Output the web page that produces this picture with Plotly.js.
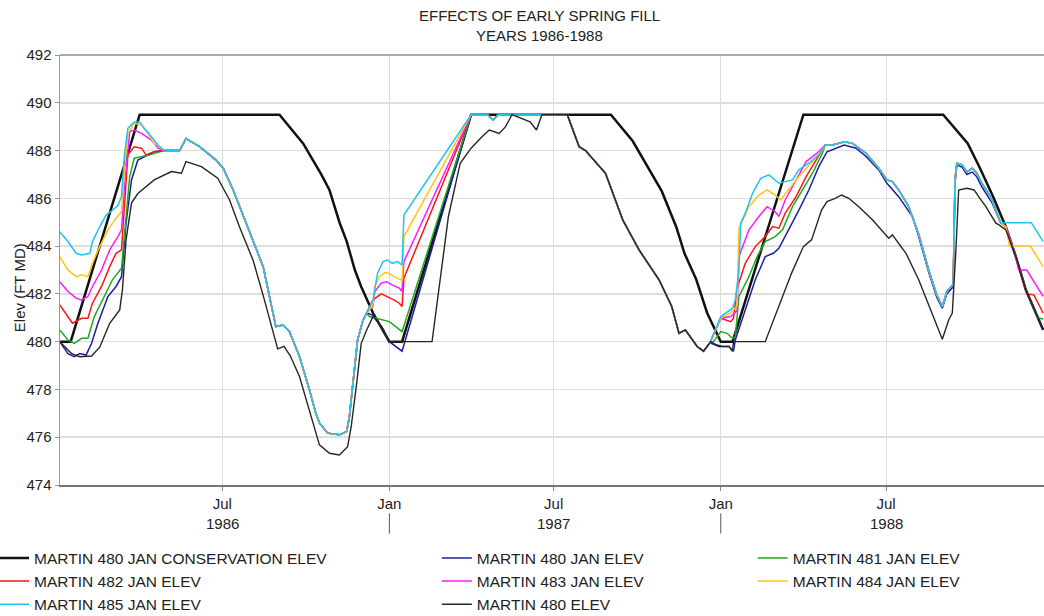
<!DOCTYPE html>
<html>
<head>
<meta charset="utf-8">
<script src="https://cdn.plot.ly/plotly-3.0.1.min.js"></script>
<style>html,body{margin:0;padding:0;background:#fff;}#chart{width:1044px;height:616px;}</style>
</head>
<body>
<div id="chart"></div>
<script>
// ---------- DATA ----------
const seriesNames = ['MARTIN 480 JAN CONSERVATION ELEV','MARTIN 480 JAN ELEV','MARTIN 481 JAN ELEV','MARTIN 482 JAN ELEV','MARTIN 483 JAN ELEV','MARTIN 484 JAN ELEV','MARTIN 485 JAN ELEV','MARTIN 480 ELEV'];
const titleLines = ['EFFECTS OF EARLY SPRING FILL','YEARS 1986-1988'];
const yAxisTitle = 'Elev (FT MD)';
const tickDates = ['1986-07-01','1987-01-01','1987-07-01','1988-01-01','1988-07-01'];
const tickLabels = ['Jul','Jan','Jul','Jan','Jul'];
const yearDates = ['1986-07-01','1987-07-01','1988-07-01'];
const yearLabels = ['1986','1987','1988'];
const yearBreaks = ['1987-01-01','1988-01-01'];

// Conservation (guide) curve
const consDates = ['1986-01-03','1986-01-15','1986-04-01','1986-09-02','1986-09-28','1986-10-18','1986-10-27','1986-11-07','1986-11-15','1986-11-24','1986-12-01','1986-12-14','1987-01-01','1987-01-15','1987-04-01','1987-09-02','1987-09-26','1987-10-16','1987-10-28','1987-11-13','1987-11-22','1987-12-05','1987-12-17','1988-01-01','1988-01-14','1988-04-01','1988-09-02','1988-09-29','1988-10-12','1988-10-27','1988-11-10','1988-11-21','1988-12-02','1988-12-13','1988-12-21'];
const consVals = [480,480,489.5,489.5,488.3,487.0,486.35,485.0,484.2,483.0,482.3,481.2,480,480,489.5,489.5,488.4,487.1,486.3,484.8,483.7,482.6,481.2,480,480,489.5,489.5,488.3,487.3,486.07,484.8,483.56,482.17,481.2,480.5];

// Historical elevation
const histDates = ['1986-01-03','1986-01-16','1986-01-25','1986-02-07','1986-02-16','1986-02-27','1986-03-10','1986-03-13','1986-03-17','1986-03-23','1986-03-30','1986-04-17','1986-05-06','1986-05-17','1986-05-22','1986-06-08','1986-06-26','1986-07-09','1986-07-20','1986-08-04','1986-08-16','1986-08-25','1986-08-31','1986-09-07','1986-09-14','1986-09-24','1986-10-05','1986-10-12','1986-10-16','1986-10-27','1986-11-07','1986-11-16','1986-11-20','1986-11-26','1986-12-01','1986-12-07','1986-12-14','1986-12-24','1987-01-01','1987-02-17','1987-03-07','1987-03-20','1987-04-01','1987-04-13','1987-04-21','1987-05-02','1987-05-09','1987-05-16','1987-06-05','1987-06-12','1987-06-18','1987-07-16','1987-07-29','1987-08-05','1987-08-27','1987-09-15','1987-10-03','1987-10-25','1987-11-08','1987-11-16','1987-11-23','1987-12-06','1987-12-13','1987-12-21','1987-12-27','1988-01-03','1988-01-10','1988-01-14','1988-01-15','1988-02-19','1988-03-05','1988-03-19','1988-04-01','1988-04-10','1988-04-21','1988-04-27','1988-05-06','1988-05-13','1988-05-21','1988-06-01','1988-06-16','1988-06-29','1988-07-04','1988-07-08','1988-07-23','1988-08-06','1988-08-21','1988-09-01','1988-09-08','1988-09-12','1988-09-16','1988-09-19','1988-09-28','1988-10-06','1988-10-11','1988-10-19','1988-10-30','1988-11-02','1988-11-10','1988-11-21','1988-12-02','1988-12-13','1988-12-21'];
const histVals = [480.0,479.5,479.37,479.4,479.77,480.77,481.33,482.17,484.26,485.8,486.2,486.77,487.12,487.05,487.54,487.33,486.84,485.93,484.8,483.4,481.8,480.6,479.7,479.8,479.4,478.54,477.15,476.17,475.68,475.33,475.26,475.6,476.45,478.26,479.93,480.49,481.05,480.6,480.0,480.0,485.23,487.47,488.1,488.58,488.86,488.72,489.0,489.5,489.2,488.86,489.5,489.5,488.16,488.0,487.05,485.1,483.84,482.59,481.47,480.35,480.49,479.8,479.6,480.0,479.87,479.8,479.8,479.6,480.0,480.0,481.47,482.87,483.98,484.26,485.51,485.86,486.0,486.14,486.0,485.65,485.1,484.54,484.33,484.47,483.7,482.59,481.19,480.1,480.91,481.2,483.84,486.35,486.42,486.35,486.07,485.65,484.96,484.9,484.68,483.56,482.17,481.2,480.5];

// Segments shared by the JAN-target runs (where their lines coincide)
const shared86Dates = ['1986-04-28','1986-05-15','1986-05-22','1986-06-06','1986-06-24','1986-07-02','1986-07-13','1986-07-27','1986-08-15','1986-08-29','1986-09-06','1986-09-13','1986-09-24','1986-10-05','1986-10-12','1986-10-16','1986-10-25','1986-11-07','1986-11-15','1986-11-18','1986-11-22','1986-11-27','1986-12-03','1986-12-07'];
const shared86Vals = [488.0,488.0,488.5,488.16,487.6,487.26,486.35,484.96,483.14,480.63,480.7,480.42,479.38,477.98,477.0,476.6,476.17,476.1,476.24,476.87,478.26,480.07,480.9,481.2];
const shared87Dates = ['1987-04-01','1987-04-19','1987-04-25','1987-05-01','1987-07-16','1987-07-29','1987-08-05','1987-08-27','1987-09-15','1987-10-03','1987-10-25','1987-11-08','1987-11-16','1987-11-23','1987-12-06','1987-12-13','1987-12-20'];
const shared87Vals = [489.5,489.5,489.28,489.5,489.5,488.16,488.0,487.05,485.1,483.84,482.59,481.47,480.35,480.49,479.8,479.6,479.95];
const shared88Dates = ['1988-04-25','1988-05-03','1988-05-16','1988-05-25','1988-06-09','1988-06-23','1988-07-02','1988-07-08','1988-07-15','1988-07-26','1988-08-06','1988-08-17','1988-08-26','1988-09-01','1988-09-06','1988-09-13','1988-09-15','1988-09-17','1988-09-23','1988-09-28','1988-10-04','1988-10-09','1988-10-15','1988-10-22','1988-10-26','1988-11-04'];
const shared88Vals = [488.23,488.23,488.37,488.3,487.89,487.26,486.77,486.7,486.35,485.65,484.5,483.0,481.95,481.47,482.1,482.4,486.8,487.47,487.4,487.1,487.26,487.05,486.6,486.2,485.9,485.0];

// MARTIN 485 JAN ELEV
const e485Dates1 = ['1986-01-03','1986-01-12','1986-01-21','1986-01-27','1986-02-05','1986-02-08','1986-02-16','1986-02-23','1986-03-02','1986-03-08','1986-03-12','1986-03-15','1986-03-19','1986-03-26','1986-04-01','1986-04-06','1986-04-14','1986-04-21'];
const e485Vals1 = [484.6,484.19,483.7,483.63,483.7,484.19,484.82,485.3,485.5,485.7,486.07,487.74,488.93,489.2,489.2,488.93,488.58,488.23];
const e485Dates2 = ['1986-12-14','1986-12-19','1986-12-25','1986-12-30','1987-01-04','1987-01-10','1987-01-15','1987-01-17'];
const e485Vals2 = [481.75,482.87,483.35,483.42,483.28,483.35,483.21,485.3];
const e485Dates3 = ['1988-01-01','1988-01-08','1988-01-14','1988-01-17','1988-01-21','1988-01-23','1988-01-28','1988-02-05','1988-02-14','1988-02-23','1988-03-05','1988-03-12','1988-03-20','1988-03-27','1988-04-07','1988-04-18'];
const e485Vals3 = [481.05,481.26,481.4,481.75,483.0,484.96,485.38,486.21,486.84,486.98,486.63,486.7,486.77,487.19,487.47,487.82];
const e485Dates4 = ['1988-11-06','1988-12-08','1988-12-21'];
const e485Vals4 = [484.98,484.98,484.2];

// MARTIN 484 JAN ELEV
const e484Dates1 = ['1986-01-03','1986-01-12','1986-01-21','1986-01-27','1986-02-03','1986-02-08','1986-02-16','1986-02-25','1986-03-06','1986-03-12','1986-03-15','1986-03-19','1986-03-26','1986-04-03','1986-04-10','1986-04-17'];
const e484Vals1 = [483.56,483.0,482.72,482.8,482.72,483.28,483.98,484.68,485.17,485.44,487.05,488.72,489.14,489.07,488.72,488.3];
const e484Dates2 = ['1986-12-14','1986-12-16','1986-12-21','1986-12-27','1987-01-01','1987-01-06','1987-01-14','1987-01-15','1987-01-17'];
const e484Vals2 = [481.55,482.31,482.72,482.89,482.86,482.72,482.59,482.51,484.4];
const e484Dates3 = ['1988-01-01','1988-01-12','1988-01-19','1988-01-21','1988-02-01','1988-02-12','1988-02-21','1988-03-01','1988-03-07','1988-03-14','1988-03-27','1988-04-11','1988-04-22'];
const e484Vals3 = [481.0,481.2,481.5,484.75,485.65,486.14,486.35,486.14,485.93,486.28,486.91,487.54,488.02];
const e484Dates4 = ['1988-11-10','1988-11-14','1988-12-07','1988-12-21'];
const e484Vals4 = [484.8,484.0,484.0,483.14];

// MARTIN 483 JAN ELEV
const e483Dates1 = ['1986-01-03','1986-01-12','1986-01-21','1986-01-27','1986-02-03','1986-02-08','1986-02-18','1986-02-27','1986-03-08','1986-03-12','1986-03-15','1986-03-21','1986-03-26','1986-04-03','1986-04-14','1986-04-21'];
const e483Vals1 = [482.51,482.1,481.82,481.75,481.89,482.31,483.0,483.84,484.4,484.68,486.35,488.8,488.86,488.72,488.44,488.1];
const e483Dates2 = ['1986-12-14','1986-12-16','1986-12-23','1986-12-29','1987-01-04','1987-01-12','1987-01-15','1987-01-17'];
const e483Vals2 = [481.5,482.1,482.45,482.51,482.38,482.24,482.1,483.35];
const e483Dates3 = ['1988-01-01','1988-01-12','1988-01-19','1988-01-21','1988-02-01','1988-02-12','1988-02-21','1988-03-01','1988-03-05','1988-03-12','1988-03-24','1988-04-04','1988-04-16'];
const e483Vals3 = [480.98,481.05,481.3,483.56,484.68,485.24,485.65,485.44,485.24,485.93,486.77,487.54,487.89];
const e483Dates4 = ['1988-11-10','1988-11-21','1988-11-24','1988-12-03','1988-12-21'];
const e483Vals4 = [484.8,483.56,483.0,483.0,481.9];

// MARTIN 482 JAN ELEV
const e482Dates1 = ['1986-01-03','1986-01-12','1986-01-17','1986-01-27','1986-02-03','1986-02-08','1986-02-18','1986-02-27','1986-03-06','1986-03-12','1986-03-15','1986-03-19','1986-03-26','1986-04-03','1986-04-08','1986-04-17'];
const e482Vals1 = [481.54,481.05,480.77,480.98,480.98,481.61,482.31,483.14,483.7,483.84,485.65,487.82,488.16,488.1,487.82,487.95];
const e482Dates2 = ['1986-12-14','1986-12-23','1986-12-30','1987-01-06','1987-01-12','1987-01-15','1987-01-17'];
const e482Vals2 = [481.75,482.0,481.89,481.75,481.61,481.47,482.66];
const e482Dates3 = ['1988-01-01','1988-01-08','1988-01-12','1988-01-15','1988-01-19','1988-01-28','1988-02-08','1988-02-19','1988-02-27','1988-03-05','1988-03-12','1988-03-24','1988-04-04','1988-04-15'];
const e482Vals3 = [480.98,480.91,480.84,480.98,482.24,483.28,483.98,484.4,484.82,484.75,485.38,486.07,486.91,487.6];
const e482Dates4 = ['1988-11-10','1988-11-21','1988-12-02','1988-12-03','1988-12-11','1988-12-21'];
const e482Vals4 = [484.8,483.56,482.17,482.0,481.95,481.2];

// MARTIN 481 JAN ELEV
const e481Dates1 = ['1986-01-03','1986-01-12','1986-01-19','1986-01-27','1986-02-03','1986-02-10','1986-02-21','1986-03-02','1986-03-12','1986-03-15','1986-03-21','1986-03-26','1986-04-03','1986-04-12'];
const e481Vals1 = [480.49,480.07,479.93,480.14,480.14,481.05,481.89,482.59,483.07,484.4,486.91,487.68,487.74,487.82];
const e481Dates2 = ['1986-12-10','1986-12-18','1986-12-25','1987-01-01','1987-01-08','1987-01-15'];
const e481Vals2 = [481.05,480.98,480.91,480.84,480.63,480.42];
const e481Dates3 = ['1987-12-24','1988-01-01','1988-01-08','1988-01-14','1988-01-17','1988-01-21','1988-02-01','1988-02-10','1988-02-19','1988-03-01','1988-03-09','1988-03-20','1988-03-31','1988-04-11','1988-04-22'];
const e481Vals3 = [480.0,480.42,480.35,480.14,480.2,481.89,482.72,483.56,484.19,484.4,484.68,485.65,486.35,487.05,487.89];
const e481Dates4 = ['1988-11-10','1988-11-21','1988-12-02','1988-12-13','1988-12-15','1988-12-21'];
const e481Vals4 = [484.8,483.56,482.17,481.2,481.0,480.95];

// MARTIN 480 JAN ELEV
const e480Dates1 = ['1986-01-03','1986-01-12','1986-01-19','1986-01-25','1986-02-01','1986-02-07','1986-02-14','1986-02-25','1986-03-06','1986-03-12','1986-03-17','1986-03-23','1986-03-30','1986-04-06','1986-04-17'];
const e480Vals1 = [480.0,479.5,479.37,479.5,479.44,479.93,480.77,481.89,482.31,482.72,484.96,486.77,487.6,487.74,487.95];
const e480Dates2 = ['1986-12-14','1986-12-24','1987-01-01','1987-01-15'];
const e480Vals2 = [481.1,480.6,480.0,479.6];
const e480Dates3 = ['1987-12-30','1988-01-10','1988-01-15','1988-01-17','1988-01-28','1988-02-08','1988-02-19','1988-02-28','1988-03-05','1988-03-16','1988-03-27','1988-04-07','1988-04-18','1988-04-27','1988-05-07','1988-05-16','1988-05-29','1988-06-09','1988-06-23','1988-07-02','1988-07-15','1988-07-30','1988-08-06','1988-08-17','1988-08-26','1988-09-01','1988-09-06','1988-09-13','1988-09-15','1988-09-17','1988-09-23','1988-09-28','1988-10-04','1988-10-09','1988-10-15','1988-10-22','1988-10-26','1988-11-04','1988-11-10','1988-11-21','1988-12-02','1988-12-13','1988-12-21'];
const e480Vals3 = [479.8,479.8,479.6,480.07,481.33,482.59,483.56,483.7,483.91,484.68,485.51,486.35,487.33,487.95,488.1,488.23,488.1,487.75,487.19,486.63,486.07,485.24,484.4,482.9,481.85,481.4,482.0,482.3,486.6,487.4,487.3,487.0,487.1,486.9,486.45,486.05,485.8,485.0,484.8,483.56,482.17,481.2,480.5];

// ---------- BUILD ----------
function join(...parts){ return [].concat(...parts); }
const FONT = 'Liberation Sans, Arial, sans-serif';
const TXT = '#222222';

function trace(name, x, y, color, width, legend){
  return {type:'scatter', mode:'lines', name, x, y, legend,
          line:{color, width, shape:'linear'}, hoverinfo:'skip'};
}

const traces = [
  trace(seriesNames[0], consDates, consVals, '#111111', 2.5, 'legend'),
  trace(seriesNames[1], join(e480Dates1, shared86Dates, e480Dates2, shared87Dates, e480Dates3),
        join(e480Vals1, shared86Vals, e480Vals2, shared87Vals, e480Vals3), '#1c1ca6', 1.5, 'legend2'),
  trace(seriesNames[2], join(e481Dates1, shared86Dates, e481Dates2, shared87Dates, e481Dates3, shared88Dates, e481Dates4),
        join(e481Vals1, shared86Vals, e481Vals2, shared87Vals, e481Vals3, shared88Vals, e481Vals4), '#1faa1f', 1.5, 'legend3'),
  trace(seriesNames[3], join(e482Dates1, shared86Dates, e482Dates2, shared87Dates, e482Dates3, shared88Dates, e482Dates4),
        join(e482Vals1, shared86Vals, e482Vals2, shared87Vals, e482Vals3, shared88Vals, e482Vals4), '#ff1414', 1.5, 'legend'),
  trace(seriesNames[4], join(e483Dates1, shared86Dates, e483Dates2, shared87Dates, e483Dates3, shared88Dates, e483Dates4),
        join(e483Vals1, shared86Vals, e483Vals2, shared87Vals, e483Vals3, shared88Vals, e483Vals4), '#ff1aff', 1.5, 'legend2'),
  trace(seriesNames[5], join(e484Dates1, shared86Dates, e484Dates2, shared87Dates, e484Dates3, shared88Dates, e484Dates4),
        join(e484Vals1, shared86Vals, e484Vals2, shared87Vals, e484Vals3, shared88Vals, e484Vals4), '#ffc414', 1.5, 'legend3'),
  trace(seriesNames[6], join(e485Dates1, shared86Dates, e485Dates2, shared87Dates, e485Dates3, shared88Dates, e485Dates4),
        join(e485Vals1, shared86Vals, e485Vals2, shared87Vals, e485Vals3, shared88Vals, e485Vals4), '#1ec4f2', 1.5, 'legend'),
  trace(seriesNames[7], histDates, histVals, '#262626', 1.4, 'legend2')
];

const legendCommon = {orientation:'v', yanchor:'top', xanchor:'left', bgcolor:'rgba(0,0,0,0)',
  font:{family:FONT, size:15.5, color:TXT}, itemwidth:30, traceorder:'normal'};

const annotations = yearDates.map((d,i)=>({x:d, xref:'x', y:-0.09, yref:'paper', text:yearLabels[i],
  showarrow:false, xanchor:'center', yanchor:'middle', font:{family:FONT, size:15, color:TXT}}));
annotations.push({x:-0.0417, xref:'paper', y:0.46, yref:'paper', text:yAxisTitle, textangle:-90,
  showarrow:false, xanchor:'center', yanchor:'middle', font:{family:FONT, size:15, color:TXT}});
annotations.push({x:0.4878, xref:'paper', y:1.0907, yref:'paper', text:titleLines[0], showarrow:false,
  xanchor:'center', yanchor:'middle', font:{family:FONT, size:15, color:TXT}});
annotations.push({x:0.4878, xref:'paper', y:1.0442, yref:'paper', text:titleLines[1], showarrow:false,
  xanchor:'center', yanchor:'middle', font:{family:FONT, size:15, color:TXT}});

const shapes = yearBreaks.map(d=>({type:'line', xref:'x', yref:'paper', x0:d, x1:d, y0:-0.066, y1:-0.113,
  line:{color:'#555', width:1}}));
shapes.push({type:'line', xref:'paper', yref:'paper', x0:0, x1:1, y0:1, y1:1, line:{color:'#aaaaaa', width:2}});

const layout = {
  width:1044, height:616,
  margin:{l:60, r:0, t:55, b:131, autoexpand:false},
  paper_bgcolor:'#ffffff', plot_bgcolor:'#ffffff',
  font:{family:FONT, size:15, color:TXT},
  xaxis:{type:'date', range:['1986-01-03 06:00','1988-12-22'], tickmode:'array', tickvals:tickDates, ticktext:tickLabels,
         showgrid:true, gridcolor:'#dedede', gridwidth:1, showline:true, linecolor:'#777', linewidth:1.5,
         ticks:'outside', ticklen:4, tickcolor:'#888', zeroline:false, automargin:false,
         tickfont:{family:FONT, size:15, color:TXT}},
  yaxis:{range:[474,492], tick0:474, dtick:2, showgrid:true, gridcolor:'#dedede', gridwidth:1.5,
         showline:true, linecolor:'#999', linewidth:1.5, ticks:'outside', ticklen:4, tickcolor:'#999',
         zeroline:false, automargin:false, tickfont:{family:FONT, size:15, color:TXT}},
  showlegend:true,
  legend: Object.assign({}, legendCommon, {x:-0.067, y:-0.131}),
  legend2: Object.assign({}, legendCommon, {x:0.383, y:-0.131}),
  legend3: Object.assign({}, legendCommon, {x:0.704, y:-0.131}),
  annotations, shapes, hovermode:false
};

Plotly.newPlot('chart', traces, layout, {staticPlot:true, displayModeBar:false});
</script>
</body>
</html>
